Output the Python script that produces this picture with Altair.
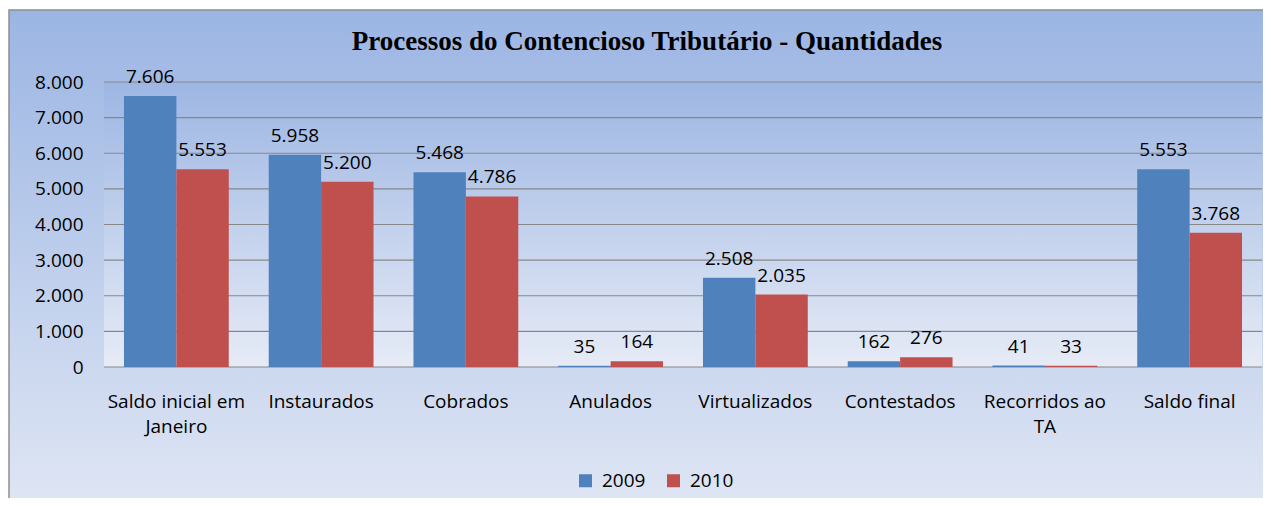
import altair as alt
import pandas as pd

categories = ["Saldo inicial em Janeiro", "Instaurados", "Cobrados", "Anulados",
              "Virtualizados", "Contestados", "Recorridos ao TA", "Saldo final"]
years = ["2009", "2010"]
values_2009 = [7606, 5958, 5468, 35, 2508, 162, 41, 5553]
values_2010 = [5553, 5200, 4786, 164, 2035, 276, 33, 3768]
y_ticks = [0, 1000, 2000, 3000, 4000, 5000, 6000, 7000, 8000]
title_text = "Processos do Contencioso Tributário - Quantidades"

rows = []
for c, a, b in zip(categories, values_2009, values_2010):
    rows.append({"cat": c, "year": "2009", "value": a})
    rows.append({"cat": c, "year": "2010", "value": b})
df = pd.DataFrame(rows)
grid_df = pd.DataFrame({"v": y_ticks})
one = pd.DataFrame({"a": [0]})

W, H = 1158, 285
FONT = "Open Sans"
FS = 19

y_scale = alt.Scale(domain=[0, 8000], nice=False)
y_axis = alt.Axis(title=None, ticks=False, domain=False, grid=False, zindex=2,
                  values=y_ticks, labelFont=FONT, labelFontSize=FS,
                  labelColor="#000000", labelPadding=21,
                  labelExpr="replace(format(datum.value, ','), ',', '.')")

frame_grad = alt.LinearGradient(
    gradient="linear", x1=0, x2=0, y1=0, y2=1,
    stops=[alt.GradientStop(color="#9bb5e3", offset=0),
           alt.GradientStop(color="#dfe6f4", offset=1)])
plot_grad = alt.LinearGradient(
    gradient="linear", x1=0, x2=0, y1=0, y2=1,
    stops=[alt.GradientStop(color="#9db6e3", offset=0),
           alt.GradientStop(color="#e6ebf6", offset=1)])

frame = alt.Chart(one).mark_rect(fill=frame_grad, stroke="#8e8e8e", strokeWidth=1.5).encode(
    x=alt.value(-95), x2=alt.value(W + 20), y=alt.value(-72), y2=alt.value(H + 140))

plot_bg = alt.Chart(one).mark_rect(fill=plot_grad).encode(
    x=alt.value(0), x2=alt.value(W), y=alt.value(0), y2=alt.value(H))

grid = alt.Chart(grid_df).mark_rule(color="#878787", strokeWidth=1.2).encode(
    y=alt.Y("v:Q", scale=y_scale, axis=y_axis), x=alt.value(0), x2=alt.value(W))

label_expr = ("datum.label == 'Saldo inicial em Janeiro' ? ['Saldo inicial em', 'Janeiro'] : "
              "datum.label == 'Recorridos ao TA' ? ['Recorridos ao', 'TA'] : datum.label")

bars = alt.Chart(df).mark_bar().encode(
    x=alt.X("cat:N", sort=categories,
            scale=alt.Scale(paddingInner=0.276, paddingOuter=0.138),
            axis=alt.Axis(title=None, ticks=False, domain=False, labelAngle=0, zindex=2,
                          labelFont=FONT, labelFontSize=FS, labelColor="#000000",
                          labelPadding=25, labelLineHeight=25, labelExpr=label_expr,
                          labelLimit=300)),
    xOffset=alt.XOffset("year:N", sort=years, scale=alt.Scale(paddingInner=0, paddingOuter=0)),
    y=alt.Y("value:Q", scale=y_scale, axis=y_axis),
    color=alt.Color("year:N", sort=years,
                    scale=alt.Scale(domain=years, range=["#4f81bd", "#c0504d"]),
                    legend=alt.Legend(title=None, orient="none", direction="horizontal",
                                      legendX=472, legendY=389, symbolType="square",
                                      symbolSize=169, symbolStrokeWidth=0, zindex=2,
                                      labelFont=FONT, labelFontSize=FS, labelColor="#000000",
                                      labelOffset=7, columnPadding=18)),
)

labels = alt.Chart(df).transform_calculate(
    txt="replace(format(datum.value, ','), ',', '.')"
).mark_text(font=FONT, fontSize=FS, color="#000000", baseline="bottom", dy=-9).encode(
    x=alt.X("cat:N", sort=categories),
    xOffset=alt.XOffset("year:N", sort=years),
    y=alt.Y("value:Q", scale=y_scale, axis=y_axis),
    text="txt:N",
)

title = alt.Chart(one).mark_text(
    text=title_text, font="Liberation Serif", fontSize=27, fontWeight="bold",
    color="#000000", align="center", baseline="middle"
).encode(x=alt.value(543), y=alt.value(-40))

chart = alt.layer(frame, plot_bg, grid, bars, labels, title).properties(
    width=W, height=H,
    autosize=alt.AutoSizeParams(type="none"),
    padding={"left": 96, "top": 74, "right": 1, "bottom": 131},
).configure_view(stroke=None).configure(background="#ffffff")

chart.save("out.html", embed_options={"renderer": "svg", "actions": False})
